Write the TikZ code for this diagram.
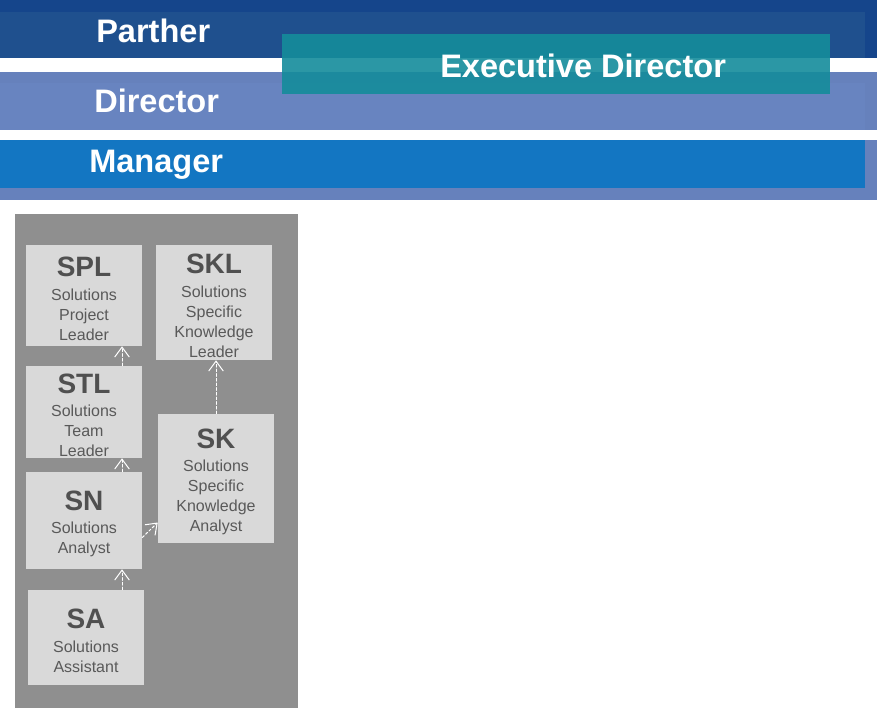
\documentclass[tikz,border=0pt]{standalone}
\usepackage{fontspec}
\setmainfont{Liberation Sans}
\usetikzlibrary{arrows.meta,positioning,calc}

\definecolor{partherDark}{RGB}{21,69,139}
\definecolor{partherBlue}{RGB}{31,80,142}
\definecolor{directorOuter}{RGB}{102,129,188}
\definecolor{directorBlue}{RGB}{104,132,192}
\definecolor{managerBlue}{RGB}{19,118,194}
\definecolor{execTeal}{RGB}{20,140,155}
\definecolor{panelGray}{RGB}{143,143,143}
\definecolor{boxGray}{RGB}{217,217,217}
\definecolor{roleText}{RGB}{89,89,89}
\definecolor{titleText}{RGB}{80,80,80}

\newcommand{\roleText}[2]{{\fontsize{21}{21}\selectfont\bfseries\color{titleText}\rule{0pt}{19.5pt}#1}\\[2.5pt]#2}

\begin{document}
\begin{tikzpicture}[x=0.75pt,y=-0.75pt,line cap=round,line join=round,
    bartext/.style={text=white,anchor=base west,inner sep=0pt,font=\fontsize{24.4}{25}\selectfont\bfseries},
    role/.style={fill=boxGray,text=roleText,align=center,minimum width=87pt,inner sep=0pt,font=\fontsize{12}{15}\selectfont},
    promote/.style={-{Straight Barb[length=7.5pt,width=11pt]},white,line width=0.75pt,dash pattern=on 2pt off 1.5pt}]

        \useasboundingbox (0,0) rectangle (877,720);

        % --- Bands ---
        \fill[partherDark] (0,0) rectangle (877,58);
        \fill[partherBlue] (0,12) rectangle (865,58);

        \fill[directorOuter] (0,72) rectangle (877,130);
        \fill[directorBlue] (0,83) rectangle (865,130);

        \fill[directorOuter] (0,140) rectangle (877,200);
        \fill[managerBlue] (0,140) rectangle (865,188);

        % Executive director box over the bands
        \fill[execTeal,opacity=0.9] (282,34) rectangle (830,94);

        \node[bartext] (parther) at (96,43) {Parther};
        \node[bartext] (director) at (94,113) {Director};
        \node[bartext] (manager) at (89,173) {Manager};
        \node[bartext] (exec) at (440,78) {Executive Director};

        % --- Career panel ---
        \fill[panelGray] (15,214) rectangle (298,708);

        \node[role,minimum height=75.75pt] (SPL) at (84,295.5) {\roleText{SPL}{Solutions\\Project\\Leader}};
        \node[role,minimum height=86.25pt] (SKL) at (214,302.5) {\roleText{SKL}{Solutions\\Specific\\Knowledge\\Leader}};
        \node[role,minimum height=69pt] (STL) at (84,412) {\roleText{STL}{Solutions\\Team\\Leader}};
        \node[role,minimum height=96.75pt] (SK) at (216,478.5) {\roleText{SK}{Solutions\\Specific\\Knowledge\\Analyst}};
        \node[role,minimum height=72.75pt] (SN) at (84,520.5) {\roleText{SN}{Solutions\\Analyst}};
        \node[role,minimum height=71.25pt] (SA) at (86,637.5) {\roleText{SA}{Solutions\\Assistant}};

        % Promotion arrows
        \draw[promote] ($(SA.north)+(36,0)$) -- ($(SN.south)+(38,0)$);
        \draw[promote] ($(SN.north)+(38,0)$) -- ($(STL.south)+(38,0)$);
        \draw[promote] ($(STL.north)+(38,0)$) -- ($(SPL.south)+(38,0)$);
        \draw[promote] ($(SN.east)+(0,17)$) -- ($(SK.west)+(0,44)$);
        \draw[promote] (SK.north) -- (SK.north |- SKL.south);

    \end{tikzpicture}
\end{document}
